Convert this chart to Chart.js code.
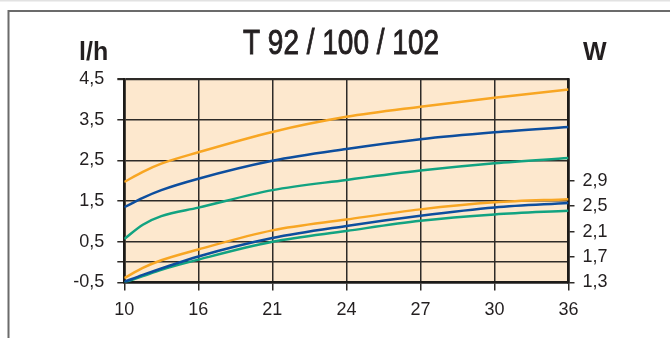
<!DOCTYPE html>
<html>
<head>
<meta charset="utf-8">
<script src="https://cdn.jsdelivr.net/npm/chart.js@4.4.1/dist/chart.umd.min.js"></script>
<style>
  html, body { margin: 0; padding: 0; background: #ffffff; }
  #wrap { position: relative; width: 670px; height: 338px; }
</style>
</head>
<body>
<div id="wrap"><canvas id="c"></canvas></div>
<script>
// ---- data (x = position index along the axis; labels below) ----
const xLabels = ['10', '16', '21', '24', '27', '30', '36'];
const xPos = [0, 0.25, 0.5, 1, 2, 3, 4, 5, 6];

// l/h curves (left axis)
const orangeLh = [1.97, 2.22, 2.42, 2.70, 3.20, 3.57, 3.82, 4.04, 4.24];
const blueLh   = [1.35, 1.58, 1.77, 2.05, 2.49, 2.78, 3.02, 3.19, 3.32];
const greenLh  = [0.57, 0.92, 1.13, 1.34, 1.77, 2.02, 2.25, 2.43, 2.56];

// W curves (right axis)
const orangeW = [1.37, 1.53, 1.65, 1.82, 2.12, 2.29, 2.45, 2.56, 2.61];
const blueW   = [1.31, 1.42, 1.52, 1.71, 2.00, 2.19, 2.35, 2.48, 2.55];
const greenW  = [1.30, 1.40, 1.50, 1.66, 1.94, 2.11, 2.27, 2.37, 2.43];

// tick values
const leftTicks = [-0.5, 0, 0.5, 1.5, 2.5, 3.5, 4.5];
const leftTickLabels = ['-0,5', '', '0,5', '1,5', '2,5', '3,5', '4,5'];
const rightTicks = [1.3, 1.7, 2.1, 2.5, 2.9];
const rightTickLabels = ['1,3', '1,7', '2,1', '2,5', '2,9'];

const titleText = 'T 92 / 100 / 102';
const leftUnit = 'l/h';
const rightUnit = 'W';

// ---- styles ----
const ORANGE = '#F8A623';
const BLUE = '#0D4E9E';
const GREEN = '#12A381';
const GRID = '#2e2b28';
const TEXT = '#231f20';

const pts = (arr) => arr.map((v, i) => ({ x: xPos[i], y: v }));
const line = (arr, color, axis) => ({
  data: pts(arr), borderColor: color, borderWidth: 2.5, pointRadius: 0,
  fill: false, cubicInterpolationMode: 'monotone', yAxisID: axis
});

const decor = {
  id: 'decor',
  beforeDraw(chart) {
    const { ctx, chartArea: a } = chart;
    ctx.save();
    ctx.fillStyle = '#e2e2e2';
    ctx.fillRect(0, 0, 670, 1.5);
    ctx.strokeStyle = '#6b6b6b';
    ctx.lineWidth = 2;
    ctx.beginPath();
    ctx.moveTo(8.5, 338); ctx.lineTo(8.5, 11); ctx.lineTo(670, 11);
    ctx.stroke();
    ctx.fillStyle = '#FDE8CE';
    ctx.fillRect(a.left, a.top, a.right - a.left, a.bottom - a.top);
    ctx.restore();
  },
  afterDraw(chart) {
    const { ctx } = chart;
    ctx.save();
    ctx.fillStyle = TEXT;
    ctx.strokeStyle = TEXT;
    ctx.textBaseline = 'alphabetic';
    // condensed title
    ctx.save();
    ctx.translate(341, 53.5);
    ctx.scale(0.8, 1);
    ctx.textAlign = 'center';
    ctx.font = '35px "Liberation Sans", Arial, sans-serif';
    ctx.lineWidth = 0.9;
    ctx.fillText(titleText, 0, 0);
    ctx.strokeText(titleText, 0, 0);
    ctx.restore();
    ctx.textAlign = 'left';
    ctx.font = 'bold 25px "Liberation Sans", Arial, sans-serif';
    ctx.fillText(leftUnit, 79, 60);
    ctx.fillText(rightUnit, 583, 60);
    ctx.restore();
  }
};

const tickFont = { family: '"Liberation Sans", Arial, sans-serif', size: 18 };

new Chart(document.getElementById('c'), {
  type: 'line',
  data: {
    datasets: [
      line(orangeLh, ORANGE, 'y'),
      line(blueLh, BLUE, 'y'),
      line(greenLh, GREEN, 'y'),
      line(orangeW, ORANGE, 'y2'),
      line(blueW, BLUE, 'y2'),
      line(greenW, GREEN, 'y2')
    ]
  },
  options: {
    responsive: true,
    maintainAspectRatio: false,
    animation: false,
    events: [],
    layout: { padding: { top: 79, left: 0, right: 0, bottom: 0 } },
    plugins: { legend: { display: false }, tooltip: { enabled: false }, title: { display: false } },
    scales: {
      x: {
        type: 'linear', min: 0, max: 6,
        afterBuildTicks: (s) => { s.ticks = xLabels.map((_, i) => ({ value: i })); },
        afterFit: (s) => { s.height = 55.5; },
        ticks: { callback: (v) => xLabels[v] ?? '', color: TEXT, font: tickFont, padding: 9, maxRotation: 0, autoSkip: false },
        grid: { color: GRID, lineWidth: 1.5, tickLength: 8 },
        border: { color: '#1c1a18', width: 2.6 }
      },
      y: {
        position: 'left', min: -0.5, max: 4.5,
        afterBuildTicks: (s) => { s.ticks = leftTicks.map(v => ({ value: v })); },
        afterFit: (s) => { s.width = 124.3; },
        ticks: {
          callback: (v) => { const i = leftTicks.indexOf(v); return i >= 0 ? leftTickLabels[i] : ''; },
          color: TEXT, font: tickFont, padding: 13, autoSkip: false
        },
        grid: {
          color: GRID, tickLength: 7,
          lineWidth: (c) => (c.tick && c.tick.value === 4.5 ? 2.2 : 1.5)
        },
        border: { color: '#1c1a18', width: 2.6 }
      },
      y2: {
        position: 'right', min: 1.3, max: 4.5,
        afterBuildTicks: (s) => { s.ticks = rightTicks.map(v => ({ value: v })); },
        afterFit: (s) => { s.width = 101.5; },
        ticks: {
          callback: (v) => { const i = rightTicks.findIndex(t => Math.abs(t - v) < 1e-9); return i >= 0 ? rightTickLabels[i] : ''; },
          color: TEXT, font: tickFont, padding: 8, autoSkip: false
        },
        grid: { drawOnChartArea: false, color: GRID, lineWidth: 1.5, tickLength: 6 },
        border: { color: '#1c1a18', width: 2.6 }
      }
    }
  },
  plugins: [decor]
});
</script>
</body>
</html>
